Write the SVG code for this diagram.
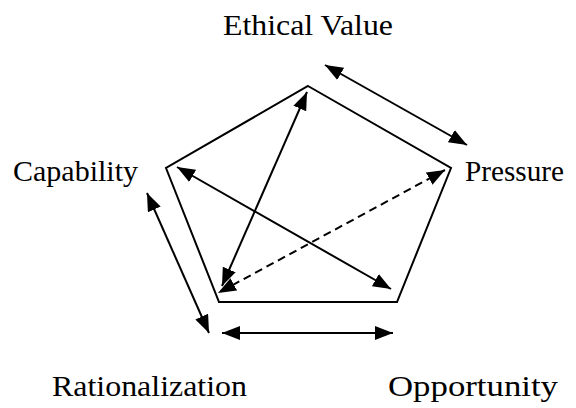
<svg xmlns="http://www.w3.org/2000/svg" width="576" height="408" viewBox="0 0 576 408">
<defs>
<marker id="ah" viewBox="0 0 18 14" refX="18" refY="7" markerWidth="18" markerHeight="14" markerUnits="userSpaceOnUse" orient="auto-start-reverse">
<path d="M0,0 L18,7 L0,14 Z" fill="#000"/>
</marker>
</defs>
<style>
.lbl{font-family:"Liberation Serif",serif;font-size:29px;fill:#000}
.ln{stroke:#000;stroke-width:2;fill:none}
.c{stroke:#000;stroke-width:2;fill:none;marker-start:url(#ah);marker-end:url(#ah)}
</style>
<rect width="576" height="408" fill="#fff"/>
<g id="pentagon">
<polygon class="ln" points="308,86 451,168 397,302 219,302 166,168"/>
</g>
<g id="ethical-value"><text class="lbl" x="223" y="35" textLength="170" lengthAdjust="spacingAndGlyphs">Ethical Value</text></g>
<g id="capability"><text class="lbl" x="13" y="181" textLength="125" lengthAdjust="spacingAndGlyphs">Capability</text></g>
<g id="pressure"><text class="lbl" x="465" y="181" textLength="99" lengthAdjust="spacingAndGlyphs">Pressure</text></g>
<g id="rationalization"><text class="lbl" x="52" y="396" textLength="195" lengthAdjust="spacingAndGlyphs">Rationalization</text></g>
<g id="opportunity"><text class="lbl" x="388" y="396" textLength="170" lengthAdjust="spacingAndGlyphs">Opportunity</text></g>
<g id="connectors">
<line class="c" x1="307" y1="92" x2="222" y2="286"/>
<line class="c" x1="177" y1="167" x2="391" y2="289"/>
<line class="c" x1="445" y1="170" x2="218" y2="293" stroke-dasharray="8,5"/>
<line class="c" x1="325" y1="65" x2="467" y2="145"/>
<line class="c" x1="147" y1="193" x2="209" y2="333"/>
<line class="c" x1="222" y1="333" x2="393" y2="333"/>
</g>
</svg>
